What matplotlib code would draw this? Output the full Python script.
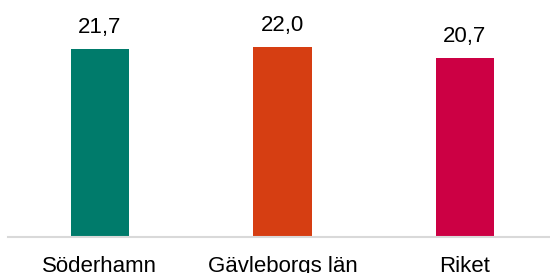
import matplotlib
matplotlib.use("Agg")
import matplotlib.pyplot as plt

categories = ["Söderhamn", "Gävleborgs län", "Riket"]
values = [21.7, 22.0, 20.7]
labels = ["21,7", "22,0", "20,7"]
colors = ["#007B6B", "#D63E12", "#CC0044"]

plt.rcParams['font.family'] = ['Liberation Sans', 'DejaVu Sans']

fig = plt.figure(figsize=(5.5, 2.73), dpi=100)
ax = fig.add_axes([0.0145, 0.132, 0.9855, 0.868])
x = list(range(len(categories)))
ax.bar(x, values, width=0.32, color=colors)
for xi, v, lab in zip(x, values, labels):
    ax.annotate(lab, (xi, v), xytext=(0, 8), textcoords="offset points",
                ha="center", va="bottom", fontsize=16, color="#000000")
ax.set_xlim(-0.504, 2.466)
ax.set_ylim(0, 27.4)
ax.set_xticks(x)
ax.set_xticklabels(categories, fontsize=16)
ax.tick_params(axis="x", length=0, pad=14)
ax.set_yticks([])
for s in ["top", "right", "left"]:
    ax.spines[s].set_visible(False)
ax.spines["bottom"].set_color("#D9D9D9")
ax.spines["bottom"].set_linewidth(1.5)
fig.savefig("out.png", dpi=100)
